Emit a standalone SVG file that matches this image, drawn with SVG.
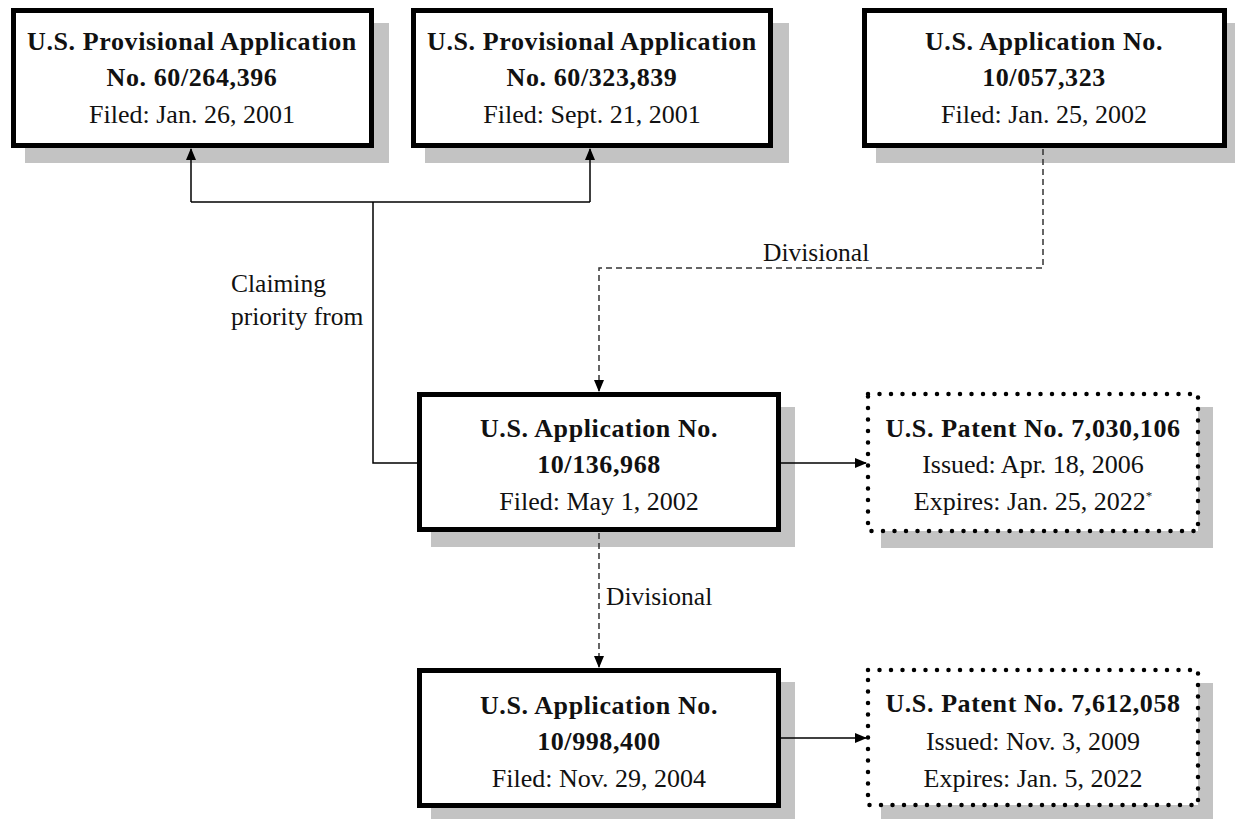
<svg xmlns="http://www.w3.org/2000/svg" width="1235" height="819" viewBox="0 0 1235 819">
<style>
.shadow{fill:#c3c3c3}
.box{fill:#fff;stroke:#000;stroke-width:5}
.dot{fill:#fff;stroke:#000;stroke-width:4.5;stroke-dasharray:0 11.5;stroke-linecap:round}
text{font-family:"Liberation Serif","Times New Roman",serif;font-size:26px;fill:#111;text-anchor:middle}
.b{font-weight:bold;letter-spacing:0.6px}
.lbl{font-size:25.5px;text-anchor:start}
.solid{fill:none;stroke:#000;stroke-width:1.5}
.dash{fill:none;stroke:#333;stroke-width:1.5;stroke-dasharray:6 4}
</style>
<defs>
<marker id="ah" markerWidth="12" markerHeight="12" refX="11" refY="6" orient="auto" markerUnits="userSpaceOnUse">
<path d="M0,1 L12,6 L0,11 z" fill="#000"/>
</marker>
</defs>
<rect width="1235" height="819" fill="#fff"/>
<g id="prov1">
<rect class="shadow" x="25" y="23" width="364" height="140"/>
<rect class="box" x="13.5" y="10.5" width="358" height="135"/>
<text class="b" x="192" y="50">U.S. Provisional Application</text>
<text class="b" x="192" y="86">No. 60/264,396</text>
<text x="192" y="123">Filed: Jan. 26, 2001</text>
</g>
<g id="prov2">
<rect class="shadow" x="425" y="23" width="364" height="140"/>
<rect class="box" x="413.5" y="10.5" width="357" height="135"/>
<text class="b" x="592" y="50">U.S. Provisional Application</text>
<text class="b" x="592" y="86">No. 60/323,839</text>
<text x="592" y="123">Filed: Sept. 21, 2001</text>
</g>
<g id="app323">
<rect class="shadow" x="876" y="23" width="365" height="140"/>
<rect class="box" x="864.5" y="10.5" width="360" height="135"/>
<text class="b" x="1044" y="50">U.S. Application No.</text>
<text class="b" x="1044" y="86">10/057,323</text>
<text x="1044" y="123">Filed: Jan. 25, 2002</text>
</g>
<g id="app968">
<rect class="shadow" x="431" y="407" width="364" height="140"/>
<rect class="box" x="419.5" y="394.5" width="359" height="135"/>
<text class="b" x="599" y="437">U.S. Application No.</text>
<text class="b" x="599" y="473">10/136,968</text>
<text x="599" y="510">Filed: May 1, 2002</text>
</g>
<g id="pat106">
<rect class="shadow" x="881" y="407" width="332" height="141"/>
<rect class="dot" x="868" y="394" width="330" height="137"/>
<text class="b" x="1033" y="437">U.S. Patent No. 7,030,106</text>
<text x="1033" y="473">Issued: Apr. 18, 2006</text>
<text x="1033" y="510">Expires: Jan. 25, 2022<tspan font-size="13" dy="-10">*</tspan></text>
</g>
<g id="app400">
<rect class="shadow" x="431" y="682" width="364" height="140"/>
<rect class="box" x="419.5" y="670.5" width="359" height="135"/>
<text class="b" x="599" y="714">U.S. Application No.</text>
<text class="b" x="599" y="750">10/998,400</text>
<text x="599" y="787">Filed: Nov. 29, 2004</text>
</g>
<g id="pat058">
<rect class="shadow" x="881" y="683" width="332" height="140"/>
<rect class="dot" x="868" y="670" width="330" height="135"/>
<text class="b" x="1033" y="712">U.S. Patent No. 7,612,058</text>
<text x="1033" y="750">Issued: Nov. 3, 2009</text>
<text x="1033" y="787">Expires: Jan. 5, 2022</text>
</g>
<g id="connectors">
<path class="solid" d="M191,202 L191,149" marker-end="url(#ah)"/>
<path class="solid" d="M590,202 L590,149" marker-end="url(#ah)"/>
<path class="solid" d="M191,202 L590,202"/>
<path class="solid" d="M373,202 L373,463 L417,463"/>
<path class="dash" d="M1043,149 L1043,268 L599,268 L599,391" marker-end="url(#ah)"/>
<path class="dash" d="M599,533 L599,667" marker-end="url(#ah)"/>
<path class="solid" d="M781,463 L866,463" marker-end="url(#ah)"/>
<path class="solid" d="M781,738 L866,738" marker-end="url(#ah)"/>
<text class="lbl" x="231" y="292">Claiming</text>
<text class="lbl" x="231" y="325">priority from</text>
<text class="lbl" x="763" y="261">Divisional</text>
<text class="lbl" x="606" y="605">Divisional</text>
</g>
</svg>
